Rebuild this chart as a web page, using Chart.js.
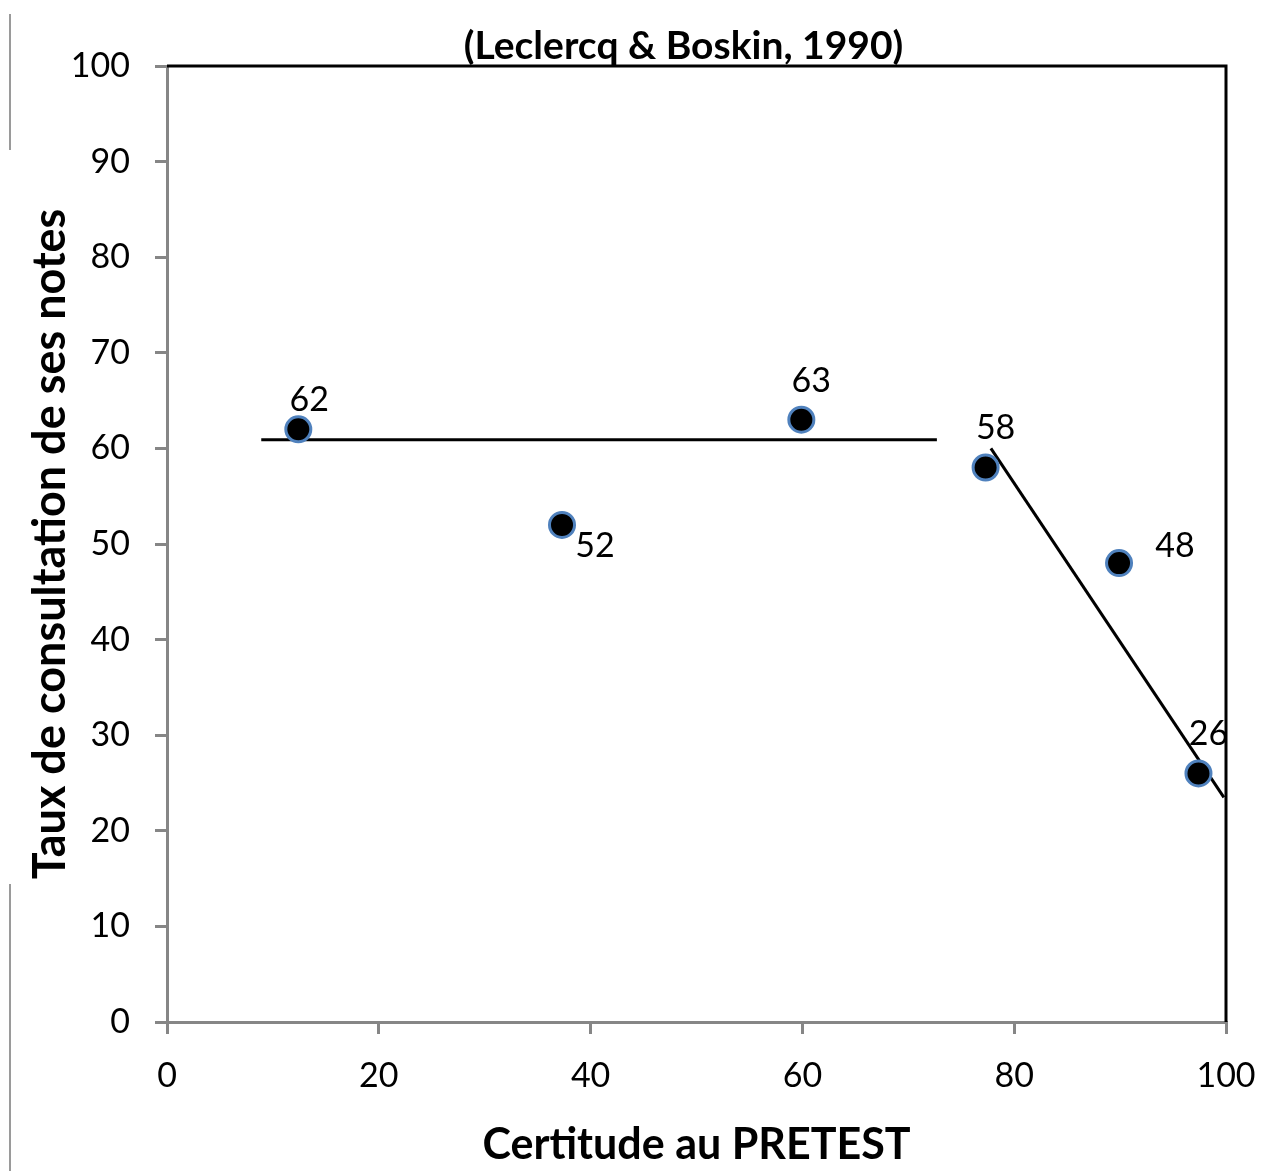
<!DOCTYPE html>
<html>
<head>
<meta charset="utf-8">
<script src="https://cdn.jsdelivr.net/npm/chart.js@4/dist/chart.umd.min.js"></script>
<style>
  html, body { margin: 0; padding: 0; background: #ffffff; }
  #wrap { width: 1274px; height: 1171px; position: relative; }
</style>
</head>
<body>
<div id="wrap"><canvas id="chart" width="1274" height="1171"></canvas></div>
<script>
// Observed groups: certainty at pretest vs. rate of consulting one's notes
const certitude = [12.4, 37.3, 59.9, 77.3, 89.9, 97.4];
const consultation = [62, 52, 63, 58, 48, 26];

// Two fitted trend segments
const flatTrendX = [8.9, 72.7];
const flatTrendY = [60.9, 60.9];
const slopeTrendX = [77.8, 99.8];
const slopeTrendY = [60.0, 23.5];

const xTicks = [0, 20, 40, 60, 80, 100];
const yTicks = [0, 10, 20, 30, 40, 50, 60, 70, 80, 90, 100];

const chartTitle = '(Leclercq & Boskin, 1990)';

// Where each value label sits relative to its point
const labelPlacement = ['aboveNear', 'belowRight', 'above', 'above', 'right', 'above'];

const FONT = 'Lato, "Liberation Sans", sans-serif';
const AXIS_GREY = '#868686';

const toPoints = (xs, ys) => xs.map((x, i) => ({ x, y: ys[i] }));

const placementOffsets = {
  above: { dx: 10, dy: -39 },
  aboveNear: { dx: 11, dy: -29 },
  belowRight: { dx: 33, dy: 21 },
  right: { dx: 56, dy: -17 }
};

const valueLabels = {
  id: 'valueLabels',
  afterDatasetsDraw(chart) {
    const meta = chart.getDatasetMeta(0);
    const ctx = chart.ctx;
    ctx.save();
    ctx.font = '34px ' + FONT;
    ctx.fillStyle = '#000000';
    ctx.textAlign = 'center';
    ctx.textBaseline = 'middle';
    meta.data.forEach((pt, i) => {
      const off = placementOffsets[labelPlacement[i]];
      ctx.fillText(String(consultation[i]), pt.x + off.dx, pt.y + off.dy);
    });
    ctx.restore();
  }
};

// Heading just above the plot frame
const heading = {
  id: 'heading',
  afterDraw(chart) {
    const { ctx, chartArea: a } = chart;
    ctx.save();
    ctx.font = 'bold 39px ' + FONT;
    ctx.fillStyle = '#000000';
    ctx.textAlign = 'center';
    ctx.textBaseline = 'middle';
    ctx.fillText(chartTitle, (a.left + a.right) / 2 - 13, a.top - 20);
    ctx.restore();
  }
};

// Black frame on the top and right of the plot area, plus the page's left rule
const frame = {
  id: 'frame',
  beforeDatasetsDraw(chart) {
    const { ctx, chartArea: a } = chart;
    ctx.save();
    ctx.strokeStyle = '#000000';
    ctx.lineWidth = 3;
    ctx.beginPath();
    ctx.moveTo(a.left, a.top);
    ctx.lineTo(a.right, a.top);
    ctx.lineTo(a.right, a.bottom);
    ctx.stroke();
    ctx.restore();
  },
  afterDraw(chart) {
    const ctx = chart.ctx;
    ctx.save();
    ctx.strokeStyle = '#9a9a9a';
    ctx.lineWidth = 2;
    ctx.beginPath();
    ctx.moveTo(10, 14); ctx.lineTo(10, 150);
    ctx.moveTo(10, 884); ctx.lineTo(10, 1171);
    ctx.stroke();
    ctx.restore();
  }
};

new Chart(document.getElementById('chart'), {
  type: 'scatter',
  data: {
    datasets: [
      {
        label: 'Groupes',
        data: toPoints(certitude, consultation),
        backgroundColor: '#000000',
        borderColor: '#4f81bd',
        borderWidth: 3,
        pointRadius: 12.5,
        pointHoverRadius: 12.5,
        order: 0
      },
      {
        label: 'Tendance 1',
        type: 'line',
        data: toPoints(flatTrendX, flatTrendY),
        borderColor: '#000000',
        borderWidth: 3,
        pointRadius: 0,
        fill: false,
        order: 1
      },
      {
        label: 'Tendance 2',
        type: 'line',
        data: toPoints(slopeTrendX, slopeTrendY),
        borderColor: '#000000',
        borderWidth: 3,
        pointRadius: 0,
        fill: false,
        order: 1
      }
    ]
  },
  options: {
    responsive: false,
    animation: false,
    layout: { padding: { left: 0, right: 48, top: 66, bottom: 0 } },
    plugins: {
      legend: { display: false },
      tooltip: { enabled: false },
      title: { display: false }
    },
    scales: {
      x: {
        type: 'linear',
        min: 0,
        max: 100,
        afterBuildTicks(scale) { scale.ticks = xTicks.map(v => ({ value: v })); },
        afterFit(scale) { scale.height = 149; scale.paddingRight = 0; scale.paddingLeft = 0; },
        grid: { drawOnChartArea: false, drawTicks: true, tickLength: 12, color: AXIS_GREY, lineWidth: 3 },
        border: { display: true, color: AXIS_GREY, width: 3 },
        ticks: { color: '#000000', font: { family: FONT, size: 34 }, padding: 22, maxRotation: 0 },
        title: {
          display: true,
          text: 'Certitude au PRETEST',
          color: '#000000',
          font: { family: FONT, size: 43, weight: 'bold' },
          padding: { top: 14, bottom: 0 }
        }
      },
      y: {
        type: 'linear',
        min: 0,
        max: 100,
        afterBuildTicks(scale) { scale.ticks = yTicks.map(v => ({ value: v })); },
        afterFit(scale) { scale.width = 167; },
        grid: { drawOnChartArea: false, drawTicks: true, tickLength: 12, color: AXIS_GREY, lineWidth: 3 },
        border: { display: true, color: AXIS_GREY, width: 3 },
        ticks: { color: '#000000', font: { family: FONT, size: 34 }, padding: 25 },
        title: {
          display: true,
          text: 'Taux de consultation de ses notes',
          color: '#000000',
          font: { family: FONT, size: 45, weight: 'bold' },
          padding: { top: 23, bottom: 0 }
        }
      }
    }
  },
  plugins: [frame, valueLabels, heading]
});
</script>
</body>
</html>
